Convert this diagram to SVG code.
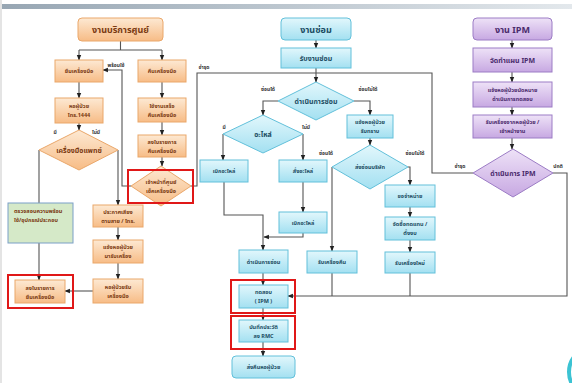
<svg xmlns="http://www.w3.org/2000/svg" width="572" height="383" viewBox="0 0 572 383">
<defs>
<linearGradient id="go" x1="0" y1="0" x2="0" y2="1"><stop offset="0" stop-color="#fde9d3"/><stop offset="1" stop-color="#f7bc86"/></linearGradient>
<linearGradient id="gc" x1="0" y1="0" x2="0" y2="1"><stop offset="0" stop-color="#e2f7fc"/><stop offset="1" stop-color="#a3e0f1"/></linearGradient>
<linearGradient id="gp" x1="0" y1="0" x2="0" y2="1"><stop offset="0" stop-color="#eee2f7"/><stop offset="1" stop-color="#c7a8e2"/></linearGradient>
<linearGradient id="bar" x1="0" y1="0" x2="1" y2="0"><stop offset="0" stop-color="#97a6b3"/><stop offset="1" stop-color="#e3e8ec"/></linearGradient>
<marker id="ar" viewBox="0 0 10 10" refX="9" refY="5" markerWidth="5" markerHeight="5" orient="auto"><path d="M0,1L10,5L0,9z" fill="#222"/></marker>
</defs>
<style>
.o{fill:url(#go);stroke:#eaa76a;stroke-width:1}
.c{fill:url(#gc);stroke:#62c0da;stroke-width:1}
.p{fill:url(#gp);stroke:#9c7cc5;stroke-width:1}
.g{fill:#d5e9c8;stroke:#7b9fc7;stroke-width:1}
.red{fill:none;stroke:#e01818;stroke-width:2}
text{font-family:"Noto Sans Thai","Noto Sans","DejaVu Sans",sans-serif;font-weight:bold;text-anchor:middle;font-size:5.5px}
.to{fill:#7a3a12}.tc{fill:#1c4d63}.tp{fill:#4a2a6c}
.h{font-size:9px}.m{font-size:7px}
.lb{font-size:5px;fill:#333;font-weight:bold}
.l{fill:none;stroke:#555;stroke-width:1.1}
.a{marker-end:url(#ar)}
</style>
<rect x="0" y="0" width="572" height="383" fill="#fff"/>
<rect x="0" y="4" width="572" height="5" fill="url(#bar)"/>
<rect x="0" y="0" width="2" height="383" fill="#e4e4e4"/>
<circle cx="594" cy="372" r="25" fill="none" stroke="#3cc3d3" stroke-width="4"/>

<g id="connectors">
<path class="l" d="M120.5,41V50M79,50H162"/>
<path class="l a" d="M79,50V60"/>
<path class="l a" d="M162,50V60"/>
<path class="l a" d="M79,82V98"/>
<path class="l a" d="M79,123V130"/>
<path class="l a" d="M162,82V98"/>
<path class="l a" d="M162,122V135"/>
<path class="l a" d="M162,157V166"/>
<path class="l a" d="M131,186H122V70H103"/>
<path class="l" d="M191,186H197V73H432V173H473"/>
<path class="l" d="M39,150V203"/>
<path class="l a" d="M39,243V280"/>
<path class="l a" d="M118,150V205"/>
<path class="l a" d="M118,227V240"/>
<path class="l a" d="M118,263V279"/>
<path class="l a" d="M93,291H65"/>
<path class="l a" d="M316,40V48"/>
<path class="l a" d="M316,68V82"/>
<path class="l a" d="M278,101H263V115"/>
<path class="l a" d="M354,101H370V115"/>
<path class="l a" d="M223,134V160"/>
<path class="l a" d="M303,134V160"/>
<path class="l a" d="M224,182V215H263V250"/>
<path class="l a" d="M303,182V212"/>
<path class="l a" d="M303,233V237H264"/>
<path class="l a" d="M263,273V285"/>
<path class="l a" d="M263,308V320"/>
<path class="l a" d="M263,342V356"/>
<path class="l a" d="M370,138V145"/>
<path class="l a" d="M332,167V251"/>
<path class="l a" d="M408,167H410V185"/>
<path class="l a" d="M410,207V217"/>
<path class="l a" d="M410,240V252"/>
<path class="l" d="M332,273V296M410,273V296"/>
<path class="l a" d="M553,173H567V296H288"/>
<path class="l a" d="M512,40V48"/>
<path class="l a" d="M512,72V82"/>
<path class="l a" d="M512,107V115"/>
<path class="l a" d="M512,138V149"/>
<text class="lb" x="116" y="67">พร้อมใช้</text>
<text class="lb" x="204" y="69">ชำรุด</text>
<text class="lb" x="55" y="134">มี</text>
<text class="lb" x="96" y="134">ไม่มี</text>
<text class="lb" x="268" y="91">ซ่อมได้</text>
<text class="lb" x="368" y="91">ซ่อมไม่ได้</text>
<text class="lb" x="224" y="129">มี</text>
<text class="lb" x="306" y="129">ไม่มี</text>
<text class="lb" x="326" y="155">ซ่อมได้</text>
<text class="lb" x="415" y="155">ซ่อมไม่ได้</text>
<text class="lb" x="460" y="168">ชำรุด</text>
<text class="lb" x="558" y="168">ปกติ</text>
</g>

<g id="hdrA"><rect class="o" x="78" y="18" width="85" height="23" rx="4"/><text class="to h" x="120.5" y="33">งานบริการศูนย์</text></g>
<g id="borrow"><rect class="o" x="55" y="60" width="48" height="22"/><text class="to" x="79" y="73">ยืมเครื่องมือ</text></g>
<g id="return"><rect class="o" x="138" y="60" width="48" height="22"/><text class="to" x="162" y="73">คืนเครื่องมือ</text></g>
<g id="ward"><rect class="o" x="55" y="98" width="48" height="25"/><text class="to" x="79" y="108">หอผู้ป่วย</text><text class="to" x="79" y="117">โทร.1444</text></g>
<g id="dmdTool"><polygon class="o" points="39,150 79,130 118,150 79,170"/><text class="to m" x="79" y="153">เครื่องมือแพทย์</text></g>
<g id="used"><rect class="o" x="138" y="98" width="48" height="24"/><text class="to" x="162" y="108">ใช้งานเสร็จ</text><text class="to" x="162" y="117">คืนเครื่องมือ</text></g>
<g id="logReturn"><rect class="o" x="138" y="135" width="48" height="22"/><text class="to" x="162" y="144">ลงใบรายการ</text><text class="to" x="162" y="153">คืนเครื่องมือ</text></g>
<g id="dmdCheck"><polygon class="o" points="131,186 161,166 191,186 161,206"/><text class="to" x="161" y="184">เจ้าหน้าที่ศูนย์</text><text class="to" x="161" y="193">เช็คเครื่องมือ</text><rect class="red" x="128" y="170" width="65" height="33"/></g>
<g id="check"><rect class="g" x="8" y="203" width="65" height="40"/><text class="to" x="14" y="213" style="text-anchor:start">ตรวจสอบความพร้อม</text><text class="to" x="14" y="222" style="text-anchor:start">ใช้/อุปกรณ์ประกอบ</text></g>
<g id="logBorrow"><rect class="o" x="15" y="280" width="50" height="23"/><text class="to" x="40" y="290">ลงใบรายการ</text><text class="to" x="40" y="299">ยืมเครื่องมือ</text><rect class="red" x="8" y="275" width="65" height="33"/></g>
<g id="announce"><rect class="o" x="93" y="205" width="50" height="22"/><text class="to" x="118" y="214">ประกาศเสียง</text><text class="to" x="118" y="223">ตามสาย / โทร.</text></g>
<g id="notify"><rect class="o" x="93" y="240" width="50" height="23"/><text class="to" x="118" y="249">แจ้งหอผู้ป่วย</text><text class="to" x="118" y="258">มารับเครื่อง</text></g>
<g id="wardRecv"><rect class="o" x="93" y="279" width="50" height="24"/><text class="to" x="118" y="289">หอผู้ป่วยรับ</text><text class="to" x="118" y="298">เครื่องมือ</text></g>

<g id="hdrB"><rect class="c" x="281" y="18" width="70" height="22" rx="4"/><text class="tc h" x="316" y="32.5">งานซ่อม</text></g>
<g id="recvJob"><rect class="c" x="281" y="48" width="70" height="20"/><text class="tc m" x="316" y="61">รับงานซ่อม</text></g>
<g id="dmdRepair"><polygon class="c" points="278,101 316,82 354,101 316,120"/><text class="tc m" x="316" y="104">ดำเนินการซ่อม</text></g>
<g id="dmdPart"><polygon class="c" points="223,134 263,115 303,134 263,153"/><text class="tc m" x="263" y="137">อะไหล่</text></g>
<g id="pick1"><rect class="c" x="200" y="160" width="48" height="22"/><text class="tc" x="224" y="173">เบิกอะไหล่</text></g>
<g id="order"><rect class="c" x="279" y="160" width="48" height="22"/><text class="tc" x="303" y="173">สั่งอะไหล่</text></g>
<g id="pick2"><rect class="c" x="279" y="212" width="48" height="21"/><text class="tc" x="303" y="224.5">เบิกอะไหล่</text></g>
<g id="doRepair"><rect class="c" x="239" y="250" width="49" height="23"/><text class="tc" x="263.5" y="263.5">ดำเนินการซ่อม</text></g>
<g id="test"><rect class="c" x="239" y="285" width="49" height="23"/><text class="tc" x="263.5" y="294">ทดสอบ</text><text class="tc" x="263.5" y="303">( IPM )</text><rect class="red" x="231" y="280" width="64" height="33"/></g>
<g id="record"><rect class="c" x="239" y="320" width="49" height="22"/><text class="tc" x="263.5" y="329">บันทึกประวัติ</text><text class="tc" x="263.5" y="338">ลง RMC</text><rect class="red" x="231" y="316" width="64" height="33"/></g>
<g id="backWard"><rect class="c" x="232" y="356" width="63" height="22" rx="4"/><text class="tc" x="263.5" y="369">ส่งคืนหอผู้ป่วย</text></g>
<g id="notify2"><rect class="c" x="347" y="115" width="46" height="23"/><text class="tc" x="370" y="124">แจ้งหอผู้ป่วย</text><text class="tc" x="370" y="133">รับทราบ</text></g>
<g id="dmdCompany"><polygon class="c" points="332,167 370,145 408,167 370,189"/><text class="tc" x="370" y="169">ส่งซ่อมบริษัท</text></g>
<g id="recvBack"><rect class="c" x="307" y="251" width="50" height="22"/><text class="tc" x="332" y="264">รับเครื่องคืน</text></g>
<g id="dispose"><rect class="c" x="385" y="185" width="50" height="22"/><text class="tc" x="410" y="198">ขอจำหน่าย</text></g>
<g id="buy"><rect class="c" x="385" y="217" width="50" height="23"/><text class="tc" x="410" y="226">จัดซื้อทดแทน /</text><text class="tc" x="410" y="235">ตั้งงบ</text></g>
<g id="newRecv"><rect class="c" x="385" y="252" width="50" height="21"/><text class="tc" x="410" y="264.5">รับเครื่องใหม่</text></g>

<g id="hdrC"><rect class="p" x="473" y="18" width="79" height="22" rx="4"/><text class="tp h" x="512.5" y="32.5">งาน IPM</text></g>
<g id="plan"><rect class="p" x="473" y="48" width="79" height="24"/><text class="tp m" x="512.5" y="62.5">จัดทำแผน IPM</text></g>
<g id="appt"><rect class="p" x="473" y="82" width="79" height="25"/><text class="tp" x="512.5" y="92">แจ้งหอผู้ป่วยนัดหมาย</text><text class="tp" x="512.5" y="101">ดำเนินการทดสอบ</text></g>
<g id="fetch"><rect class="p" x="473" y="115" width="79" height="23"/><text class="tp" x="512.5" y="124">รับเครื่องจากหอผู้ป่วย /</text><text class="tp" x="512.5" y="133">เข้าหน้างาน</text></g>
<g id="dmdIPM"><polygon class="p" points="473,173 513,149 553,173 513,197"/><text class="tp m" x="513" y="176">ดำเนินการ IPM</text></g>
</svg>
